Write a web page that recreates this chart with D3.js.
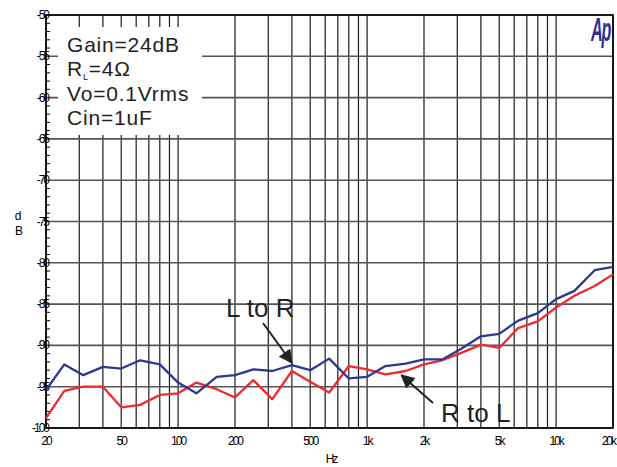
<!DOCTYPE html>
<html>
<head>
<meta charset="utf-8">
<script src="https://cdn.jsdelivr.net/npm/d3@7"></script>
<style>
  html, body { margin: 0; padding: 0; background: #fff; }
  svg { display: block; }
  .tick-label { font-family: "Liberation Sans Narrow", "Liberation Sans", Arial, sans-serif; font-size: 12px; letter-spacing: -2px; fill: #000; }
  .note { font-family: "Liberation Sans", Arial, sans-serif; fill: #222; }
</style>
</head>
<body>
<div id="chart"></div>
<script>
// 1/3 octave measurement points, Hz
const freqs = [20, 25, 31.5, 40, 50, 63, 80, 100, 125, 160, 200, 250, 315, 400, 500, 630,
  800, 1000, 1250, 1600, 2000, 2500, 3150, 4000, 5000, 6300, 8000, 10000, 12500, 16000, 20000];

// crosstalk, dB
const lToR = [-95.4, -92.3, -93.6, -92.6, -92.8, -91.8, -92.3, -94.5, -95.8, -93.8, -93.6, -92.9,
  -93.1, -92.4, -93.0, -91.6, -94.0, -93.8, -92.5, -92.2, -91.7, -91.7, -90.4, -88.9, -88.6,
  -87.0, -86.1, -84.4, -83.4, -80.9, -80.5];
const rToL = [-98.8, -95.5, -95.0, -95.0, -97.5, -97.2, -96.0, -95.8, -94.5, -95.3, -96.3, -94.2,
  -96.5, -93.1, -94.4, -95.7, -92.5, -92.9, -93.5, -93.1, -92.3, -91.8, -90.9, -89.9, -90.3,
  -87.9, -87.1, -85.4, -84.0, -82.8, -81.4];

const gridFreqs = [20, 30, 40, 50, 60, 70, 80, 90, 100, 200, 300, 400, 500, 600, 700, 800, 900,
  1000, 2000, 3000, 4000, 5000, 6000, 7000, 8000, 9000, 10000, 20000];
const xTickVals = [20, 50, 100, 200, 500, 1000, 2000, 5000, 10000, 20000];
const xTickText = ['20', '50', '100', '200', '500', '1k', '2k', '5k', '10k', '20k'];
const yTickVals = [-50, -55, -60, -65, -70, -75, -80, -85, -90, -95, -100];
const conditions = ['Gain=24dB', 'RL', 'Vo=0.1Vrms', 'Cin=1uF'];

const width = 617;
const height = 467;
const plot = { left: 46, right: 613, top: 15, bottom: 428 };

const svg = d3.select('#chart').append('svg')
  .attr('width', width)
  .attr('height', height);

const x = d3.scaleLog().domain([20, 20000]).range([plot.left, plot.right]);
const y = d3.scaleLinear().domain([-50, -100]).range([plot.top, plot.bottom]);

// grid
svg.append('g')
  .selectAll('line')
  .data(gridFreqs)
  .join('line')
  .attr('x1', d => x(d)).attr('x2', d => x(d))
  .attr('y1', plot.top).attr('y2', plot.bottom)
  .attr('stroke', '#1a1a1a')
  .attr('stroke-width', 1.2);

svg.append('g')
  .selectAll('line')
  .data(yTickVals)
  .join('line')
  .attr('x1', plot.left).attr('x2', plot.right)
  .attr('y1', d => y(d)).attr('y2', d => y(d))
  .attr('stroke', '#555')
  .attr('stroke-width', 1.6);

// minor ticks on the left, every 1 dB
svg.append('g')
  .selectAll('line')
  .data(d3.range(-51, -100, -1).filter(d => d % 5 !== 0))
  .join('line')
  .attr('x1', plot.left).attr('x2', plot.left + 4)
  .attr('y1', d => y(d)).attr('y2', d => y(d))
  .attr('stroke', '#000')
  .attr('stroke-width', 1);

// frame
svg.append('rect')
  .attr('x', plot.left).attr('y', plot.top)
  .attr('width', plot.right - plot.left).attr('height', plot.bottom - plot.top)
  .attr('fill', 'none')
  .attr('stroke', '#000')
  .attr('stroke-width', 1.6);

// conditions box
svg.append('rect')
  .attr('x', 58).attr('y', 27)
  .attr('width', 144).attr('height', 108)
  .attr('fill', '#fff');

const cond = svg.append('g').attr('class', 'note')
  .attr('font-size', 21)
  .attr('letter-spacing', 0.8);
conditions.forEach((c, i) => {
  const t = cond.append('text')
    .attr('x', 67)
    .attr('y', 52 + i * 24.3);
  if (c === 'RL') {
    t.append('tspan').text('R');
    t.append('tspan').attr('font-size', 9).attr('dy', 4).text('L');
    t.append('tspan').attr('dy', -4).text('=4Ω');
  } else {
    t.text(c);
  }
});

// y tick labels
svg.append('g')
  .selectAll('text')
  .data(yTickVals)
  .join('text')
  .attr('class', 'tick-label')
  .attr('x', plot.left + 2)
  .attr('y', d => y(d) + 4)
  .attr('text-anchor', 'end')
  .text(d => d);

// x tick labels
svg.append('g')
  .selectAll('text')
  .data(xTickVals)
  .join('text')
  .attr('class', 'tick-label')
  .attr('x', (d, i) => i === xTickVals.length - 1 ? x(d) + 2 : x(d))
  .attr('y', plot.bottom + 17)
  .attr('text-anchor', (d, i) => i === xTickVals.length - 1 ? 'end' : 'middle')
  .text((d, i) => xTickText[i]);

svg.append('text').attr('class', 'tick-label')
  .attr('x', 331).attr('y', 463).attr('text-anchor', 'middle').text('Hz');
svg.append('text').attr('class', 'tick-label')
  .attr('x', 17).attr('y', 220).attr('text-anchor', 'middle').attr('letter-spacing', 0).text('d');
svg.append('text').attr('class', 'tick-label')
  .attr('x', 18).attr('y', 235).attr('text-anchor', 'middle').attr('letter-spacing', 0).text('B');

// Ap logo, condensed and tall
svg.append('text')
  .attr('transform', 'translate(610,41) scale(0.65,1.35)')
  .attr('text-anchor', 'end')
  .attr('font-family', '"Liberation Sans", Arial, sans-serif')
  .attr('font-size', 25)
  .attr('font-weight', 'bold')
  .attr('font-style', 'italic')
  .attr('letter-spacing', -2)
  .attr('fill', '#2e3192')
  .text('Ap');

// curves
const line = d3.line()
  .x((d, i) => x(freqs[i]))
  .y(d => y(d));

svg.append('path')
  .datum(rToL)
  .attr('d', line)
  .attr('fill', 'none')
  .attr('stroke', '#ee2a32')
  .attr('stroke-width', 2.3)
  .attr('stroke-linejoin', 'round');

svg.append('path')
  .datum(lToR)
  .attr('d', line)
  .attr('fill', 'none')
  .attr('stroke', '#2b3990')
  .attr('stroke-width', 2.3)
  .attr('stroke-linejoin', 'round');

// annotations
svg.append('defs').append('marker')
  .attr('id', 'head')
  .attr('viewBox', '0 0 10 10')
  .attr('refX', 9).attr('refY', 5)
  .attr('markerWidth', 7).attr('markerHeight', 7)
  .attr('markerUnits', 'strokeWidth')
  .attr('orient', 'auto')
  .append('path')
  .attr('d', 'M0,0 L10,5 L0,10 Z')
  .attr('fill', '#222');

const notes = [
  { label: 'L to R', tx: 226, ty: 317, from: [263, 323], f: 400, db: -92.1 },
  { label: 'R to L', tx: 441, ty: 422, from: [433, 403], f: 1520, db: -93.6 }
];

notes.forEach(n => {
  svg.append('text')
    .attr('class', 'note')
    .attr('x', n.tx).attr('y', n.ty)
    .attr('font-size', 26)
    .text(n.label);
  svg.append('line')
    .attr('x1', n.from[0]).attr('y1', n.from[1])
    .attr('x2', x(n.f)).attr('y2', y(n.db))
    .attr('stroke', '#222')
    .attr('stroke-width', 2)
    .attr('marker-end', 'url(#head)');
});
</script>
</body>
</html>
